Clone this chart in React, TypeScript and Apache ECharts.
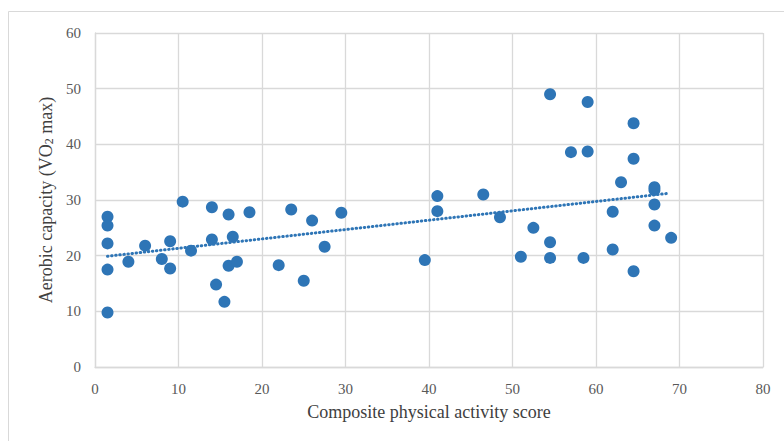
import React, { useEffect, useRef } from "react";
import * as echarts from "echarts";

const activityScore = [
  1.5, 1.5, 1.5, 1.5, 1.5, 4, 6, 8, 9, 9, 10.5, 11.5, 14, 14, 14.5, 15.5, 16, 16, 16.5, 17,
  18.5, 22, 23.5, 25, 26, 27.5, 29.5, 39.5, 41, 41, 46.5, 48.5, 51, 52.5, 54.5, 54.5, 54.5,
  57, 59, 59, 58.5, 62, 62, 63, 64.5, 64.5, 64.5, 67, 67, 67, 67, 69,
];
const aerobicCapacity = [
  27.0, 25.4, 22.2, 17.5, 9.8, 18.9, 21.8, 19.4, 22.6, 17.7, 29.7, 20.9, 28.7, 22.9, 14.8, 11.7, 27.4, 18.2, 23.4, 18.9,
  27.8, 18.3, 28.3, 15.5, 26.3, 21.6, 27.7, 19.2, 30.7, 28.0, 31.0, 26.9, 19.8, 25.0, 49.0, 22.4, 19.6,
  38.6, 47.6, 38.7, 19.6, 27.9, 21.1, 33.2, 43.8, 37.4, 17.2, 32.3, 31.8, 29.2, 25.4, 23.2,
];
const trendX = [1.5, 68.7];
const trendY = [19.9, 31.2];
const xTicks = { min: 0, max: 80, interval: 10 };
const yTicks = { min: 0, max: 60, interval: 10 };

export default function App() {
  const ref = useRef<HTMLDivElement>(null);
  useEffect(() => {
    const chart = echarts.init(ref.current!, null, { renderer: "svg" });
    const font = "Liberation Serif";
    const points = activityScore.map((x, i) => [x, aerobicCapacity[i]]);
    const trend = trendX.map((x, i) => [x, trendY[i]]);
    const tickLabel = {
      fontFamily: font,
      fontSize: 15,
      color: "#595959",
      margin: 14,
      formatter: (v: number) => `{t|${v}}`,
      rich: { t: { fontFamily: font, fontSize: 15, color: "#595959" } },
    };
    chart.setOption({
      animation: false,
      backgroundColor: "#ffffff",
      textStyle: { fontFamily: font },
      graphic: [
        {
          type: "rect",
          shape: { x: 8.5, y: 11.5, width: 820, height: 460 },
          style: { fill: "none", stroke: "#d9d9d9", lineWidth: 1 },
          silent: true,
        },
      ],
      grid: { left: 95, right: 21, top: 33, bottom: 74 },
      xAxis: {
        type: "value",
        ...xTicks,
        name: "Composite physical activity score",
        nameLocation: "middle",
        nameGap: 36,
        nameTextStyle: { fontFamily: font, fontSize: 18, color: "#404040" },
        axisLine: { show: true, lineStyle: { color: "#d9d9d9", width: 1.3 } },
        axisTick: { show: false },
        axisLabel: tickLabel,
        splitLine: { show: true, lineStyle: { color: "#d9d9d9", width: 1.3 } },
      },
      yAxis: {
        type: "value",
        ...yTicks,
        name: "Aerobic capacity (VO{sub|2} max)",
        nameLocation: "middle",
        nameGap: 37,
        nameTextStyle: {
          fontFamily: font,
          fontSize: 18,
          color: "#404040",
          rich: {
            sub: { fontFamily: font, fontSize: 12, color: "#404040", verticalAlign: "bottom", lineHeight: 12, padding: [8, 0, 0, 0] },
          },
        },
        axisLine: { show: true, lineStyle: { color: "#d9d9d9", width: 1.3 } },
        axisTick: { show: false },
        axisLabel: tickLabel,
        splitLine: { show: true, lineStyle: { color: "#d9d9d9", width: 1.3 } },
      },
      series: [
        {
          type: "scatter",
          data: points,
          symbolSize: 12,
          itemStyle: { color: "#2E75B6", opacity: 1 },
        },
        {
          type: "line",
          data: trend,
          symbol: "none",
          lineStyle: { color: "#2E75B6", width: 3, type: [0.5, 3.6], cap: "round" },
          z: 3,
        },
      ],
    });
    return () => chart.dispose();
  }, []);
  return <div ref={ref} style={{ position: "fixed", left: 0, top: 0, width: 784, height: 441 }} />;
}
